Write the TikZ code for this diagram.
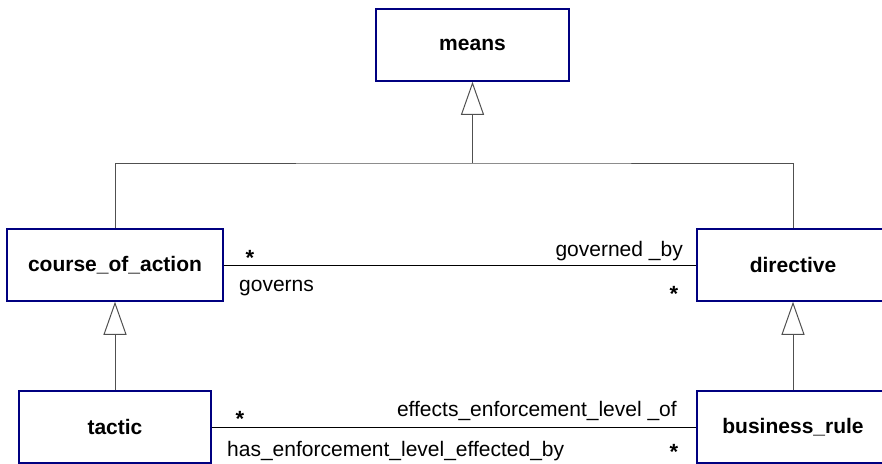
\documentclass[tikz,border=0pt]{standalone}
\usepackage{fontspec}
\setmainfont{Liberation Sans}
\usetikzlibrary{arrows.meta}
\definecolor{boxblue}{RGB}{0,0,128}
\definecolor{genline}{RGB}{80,80,80}
\begin{document}
\begin{tikzpicture}[x=1pt,y=-1pt,
  classbox/.style={draw=boxblue, line width=1.5pt, fill=white, inner sep=0pt,
    font=\fontsize{21}{25}\selectfont\bfseries},
  genedge/.style={draw=genline, line width=1pt},
  gentip/.style={genedge, -{Triangle[open, length=33pt, width=23pt, line width=1pt]}},
  assoc/.style={draw=black, line width=0.9pt},
  rolelabel/.style={inner sep=0pt, font=\fontsize{21}{25}\selectfont},
  mult/.style={inner sep=0pt, font=\fontsize{22}{25}\selectfont\bfseries}]
\useasboundingbox (0,0) rectangle (882,463);
\clip (0,0) rectangle (882,463);

% classes
\node[classbox, minimum width=193pt, minimum height=72pt] (means) at (472.5,45) {means};
\node[classbox, minimum width=216pt, minimum height=72pt] (coa) at (115,265) {course\_of\_action};
\node[classbox, minimum width=192pt, minimum height=72pt] (dir) at (793,265) {directive};
\node[classbox, minimum width=192pt, minimum height=72pt] (tactic) at (115,427) {tactic};
\node[classbox, minimum width=192pt, minimum height=72pt] (br) at (793,427) {business\_rule};

% generalisations
\coordinate (bus) at (472.5,163);
\draw[genedge] (coa.north) |- (bus) -| (dir.north);
\draw[gentip] (bus) -- (means.south);
\draw[gentip] (tactic.north) -- (coa.south);
\draw[gentip] (br.north) -- (dir.south);

% associations
\draw[assoc] (coa.east) -- (dir.west);
\draw[assoc] (tactic.east) -- (br.west);

% roles and multiplicities: course_of_action -- directive
\node[mult, anchor=base] (m1) at (250,265) {*};
\node[rolelabel, anchor=base west] (r1) at (239,291) {governs};
\node[rolelabel, anchor=base east] (r2) at (683,256) {governed \_by};
\node[mult, anchor=base] (m2) at (674,301) {*};

% roles and multiplicities: tactic -- business_rule
\node[mult, anchor=base] (m3) at (240,426) {*};
\node[rolelabel, anchor=base east] (r3) at (677,416) {effects\_enforcement\_level \_of};
\node[rolelabel, anchor=base west] (r4) at (227,456) {has\_enforcement\_level\_effected\_by};
\node[mult, anchor=base] (m4) at (674,459) {*};
\end{tikzpicture}
\end{document}
